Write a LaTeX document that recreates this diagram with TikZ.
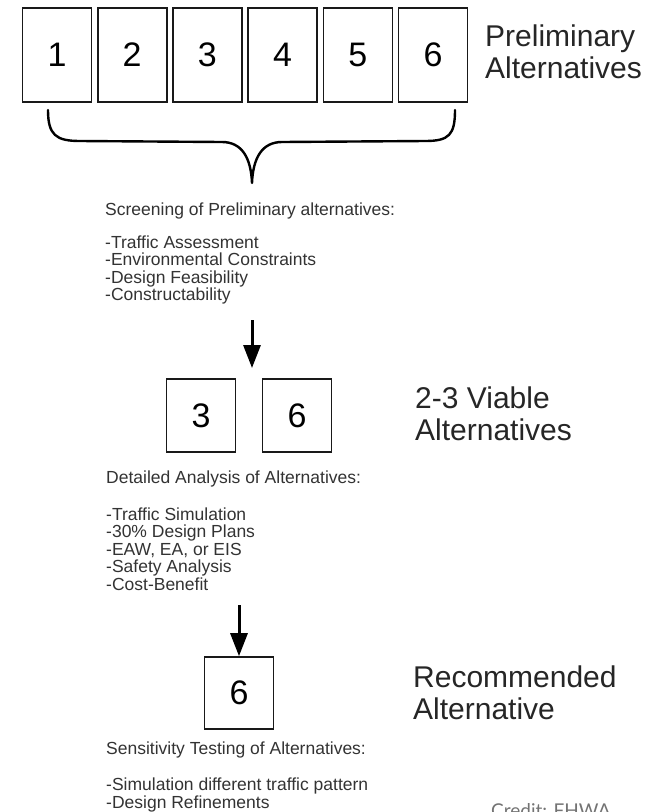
\documentclass[tikz,border=0pt]{standalone}
\usepackage{fontspec}
\setmainfont{Liberation Sans}
\newfontfamily\creditfont{Lato}
\usetikzlibrary{arrows.meta}
\tikzset{
  numbox/.style={draw=black!90, line width=1.6pt, inner sep=0pt,
    minimum width=69pt, font=\fontsize{34}{34}\selectfont},
  stagetext/.style={anchor=base west, align=left, inner sep=0pt,
    text=black!85, font=\fontsize{30}{32}\selectfont},
  listtext/.style={anchor=base west, align=left, inner sep=0pt,
    text=black!80, font=\fontsize{17.5}{17.5}\selectfont},
  downarrow/.style={line width=3pt, -{Triangle[width=17pt,length=23pt]}}
}
\begin{document}
\begin{tikzpicture}[x=1pt,y=-1pt]
\clip (0,0) rectangle (659,812);
\fill[white] (0,0) rectangle (659,812);
\foreach \i in {1,...,6}
  \node[numbox, minimum height=94pt] (pre\i) at ({57+75.2*(\i-1)},55) {\i};
\node[stagetext] (pretitle) at (485,78) {Preliminary\\Alternatives};
\draw[line width=2.4pt, line cap=round, line join=round]
  (48,110) .. controls (48,135) and (56,141) .. (80,141) -- (222,142)
  .. controls (242,142) and (251,158) .. (252,183)
  .. controls (253,158) and (262,142) .. (282,142) -- (425,141)
  .. controls (449,141) and (455,135) .. (455,110);
\node[listtext] (screening) at (105,300.5) {Screening of Preliminary alternatives:\\[15pt]
  -Traffic Assessment\\-Environmental Constraints\\-Design Feasibility\\-Constructability};
\coordinate (arrowtop1) at (252,320);
\coordinate (arrowtip1) at (252,368);
\draw[downarrow] (arrowtop1) -- (arrowtip1);
\node[numbox, minimum height=73pt] (viable3) at (201,415.5) {3};
\node[numbox, minimum height=73pt] (viable6) at (297,415.5) {6};
\node[stagetext] (viabletitle) at (415,440) {2-3 Viable\\Alternatives};
\node[listtext] (detailed) at (106,590) {Detailed Analysis of Alternatives:\\[19pt]
  -Traffic Simulation\\-30\% Design Plans\\-EAW, EA, or EIS\\-Safety Analysis\\-Cost-Benefit};
\node[numbox, minimum height=72pt] (recommended) at (239,693) {6};
\coordinate (arrowtop2) at (239,605);
\draw[downarrow] (arrowtop2) -- (recommended.north);
\node[stagetext] (rectitle) at (413,719) {Recommended\\Alternative};
\node[listtext] (sensitivity) at (106,808) {Sensitivity Testing of Alternatives:\\[19pt]
  -Simulation different traffic pattern\\-Design Refinements};
\node[anchor=base west, inner sep=0pt, text=black!55,
  font=\creditfont\fontsize{19}{19}\selectfont] (credit) at (491,817) {Credit: FHWA};
\end{tikzpicture}
\end{document}
